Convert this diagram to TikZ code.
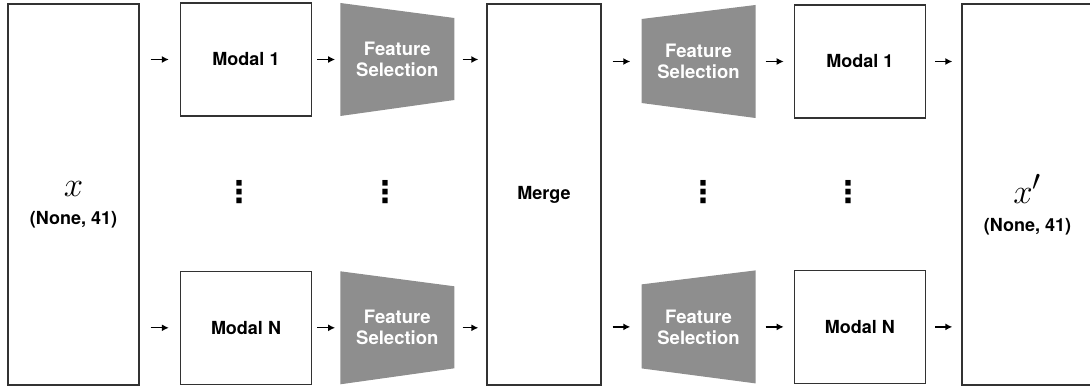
\documentclass[tikz,border=0pt]{standalone}
\usepackage{fontspec}
\setmainfont{TeX Gyre Heros}
\newfontfamily\dotsfont{DejaVu Sans}
\usetikzlibrary{arrows.meta, positioning}
\definecolor{fsgray}{RGB}{142,142,142}
\definecolor{boxline}{RGB}{50,50,50}

\begin{document}
\begin{tikzpicture}[
      x=1pt, y=1pt,
      box/.style={draw=boxline, line width=1.3pt, minimum width=131pt, minimum height=113pt,
        font=\fontsize{18}{22}\selectfont\bfseries},
      tall/.style={box, minimum height=381pt},
      fsin/.style={minimum width=114pt, minimum height=113pt, text=white, align=center,
        font=\fontsize{18.5}{21}\selectfont\bfseries,
        path picture={\fill[fsgray] (path picture bounding box.north west)
          -- ([yshift=-15pt]path picture bounding box.north east)
          -- ([yshift=16pt]path picture bounding box.south east)
          -- (path picture bounding box.south west) -- cycle;}},
      fsout/.style={fsin,
        path picture={\fill[fsgray] (path picture bounding box.north east)
          -- (path picture bounding box.south east)
          -- ([yshift=15pt]path picture bounding box.south west)
          -- ([yshift=-14pt]path picture bounding box.north west) -- cycle;}},
      vdot/.style={inner sep=0pt, font=\dotsfont\bfseries\fontsize{30}{30}\selectfont},
      edge/.style={-{Latex[length=7pt, width=7pt]}, line width=1.4pt, shorten <=#1, shorten >=#1}
    ]
    \useasboundingbox (0,0) rectangle (1090,-387);
    \clip (0,0) rectangle (1090,-387);

    % input
    \node[tall, label={[align=center, yshift=-10pt, font=\fontsize{18}{28}\selectfont\bfseries]center:{\fontsize{24.88}{24.88}\selectfont\scalebox{1.4}{$x$}}\\(None, 41)}] (xin) at (73.5,-194.5) {};

    % encoder side
    \node[box] (m1L) at (246,-59.5) {Modal 1};
    \node[box, below=154pt of m1L] (mNL) {Modal N};
    \node[fsin, right=28pt of m1L] (fs1L) {Feature\\Selection};
    \node[fsin, right=28pt of mNL] (fsNL) {Feature\\Selection};

    \node[box, minimum width=114pt, minimum height=381pt] (merge) at (544,-194.5) {Merge};

    % decoder side
    \node[fsout] (fs1R) at (698.5,-61.5) {Feature\\Selection};
    \node[fsout, below=152pt of fs1R] (fsNR) {Feature\\Selection};
    \node[box, right=38pt of fs1R] (m1R) {Modal 1};
    \node[box, right=38pt of fsNR] (mNR) {Modal N};

    % output
    \node[tall, label={[align=center, yshift=-10pt, font=\fontsize{18}{28}\selectfont\bfseries]center:{\fontsize{24.88}{24.88}\selectfont\scalebox{1.4}{$x'$}}\\(None, 41)}] (xout) at (1027.5,-194.5) {};

    \node[vdot] (d1) at (239,-192.5) {⋮};
    \node[vdot] (d2) at (385,-192.5) {⋮};
    \node[vdot] (d3) at (703,-192.5) {⋮};
    \node[vdot] (d4) at (848,-192.5) {⋮};

    \draw[edge=11pt] (xin.east |- m1L) -- (m1L);
    \draw[edge=11pt] (xin.east |- mNL) -- (mNL);
    \draw[edge=5pt] (m1L) -- (fs1L);
    \draw[edge=5pt] (mNL) -- (fsNL);
    \draw[edge=8pt] (fs1L) -- (merge.west |- fs1L);
    \draw[edge=8pt] (fsNL) -- (merge.west |- fsNL);
    \draw[edge=11pt] (merge.east |- fs1R) -- (fs1R);
    \draw[edge=11pt] (merge.east |- fsNR) -- (fsNR);
    \draw[edge=10pt] (fs1R) -- (m1R);
    \draw[edge=10pt] (fsNR) -- (mNR);
    \draw[edge=9pt] (m1R) -- (xout.west |- m1R);
    \draw[edge=9pt] (mNR) -- (xout.west |- mNR);
\end{tikzpicture}
\end{document}
